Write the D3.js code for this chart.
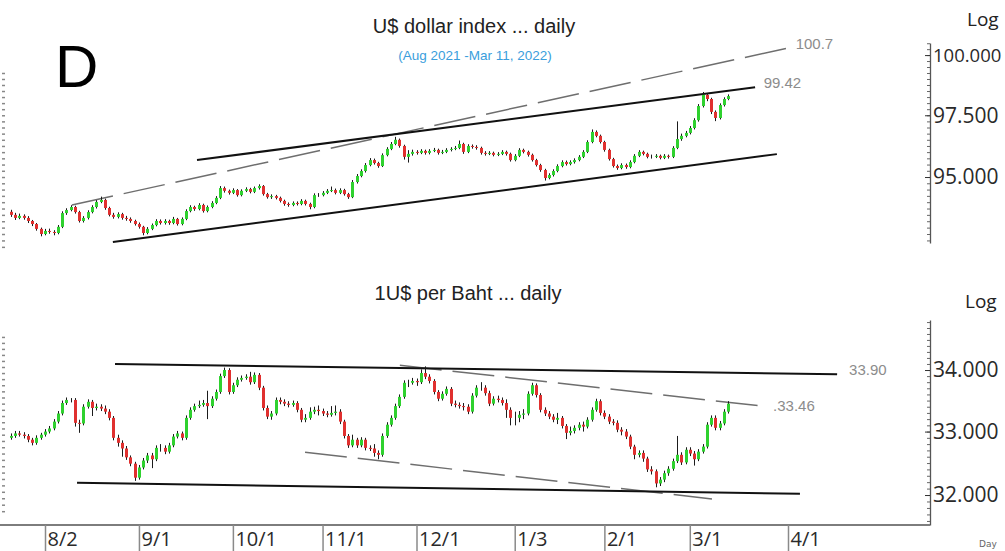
<!DOCTYPE html>
<html><head><meta charset="utf-8">
<script src="https://cdn.jsdelivr.net/npm/d3@7"></script>
<style>html,body{margin:0;padding:0;background:#fff;}svg{display:block;}</style>
</head><body>
<svg id="chart" width="1005" height="551"></svg>
<script>
// ---------- data ----------
const firstDate = "2021-07-21";           // first candle (daily, weekdays)
const baseDate = "2021-08-02";            // trading-day index 0
const tickDates = ["2021-08-02","2021-09-01","2021-10-01","2021-11-01","2021-12-01","2022-01-03","2022-02-01","2022-03-01","2022-04-01"];
const tickLabels = ["8/2","9/1","10/1","11/1","12/1","1/3","2/1","3/1","4/1"];

const usdOpen = [93.62,93.50,93.38,93.46,93.38,93.26,93.14,92.95,
92.75,92.87,92.83,92.79,93.03,93.57,93.69,93.81,93.61,93.26,
93.38,93.61,93.81,94.01,94.09,93.77,93.50,93.42,93.53,93.38,
93.34,93.26,93.14,93.03,92.79,92.95,93.10,93.26,93.18,93.26,
93.18,93.34,93.14,93.34,93.65,93.81,93.73,93.89,93.65,93.81,
93.97,94.17,94.56,94.45,94.37,94.48,94.28,94.45,94.52,94.41,
94.56,94.64,94.32,94.20,94.24,94.17,94.05,93.93,93.89,93.97,
93.93,94.05,93.93,93.81,94.28,94.28,94.37,94.45,94.48,94.37,
94.48,94.32,94.20,94.80,95.04,95.24,95.48,95.68,95.56,95.44,
95.88,96.13,96.33,96.50,96.25,95.81,95.93,96.01,95.97,96.05,
95.97,96.05,96.09,95.97,96.01,96.09,96.13,96.17,96.33,96.01,
96.25,96.21,96.17,95.97,95.93,95.97,95.89,95.93,96.01,95.93,
95.68,95.85,96.09,96.01,95.89,95.68,95.48,95.28,94.96,95.08,
95.24,95.44,95.60,95.52,95.60,95.68,95.81,96.01,96.41,96.82,
96.66,96.41,96.09,95.72,95.44,95.36,95.48,95.40,95.60,95.85,
96.01,95.93,95.81,95.81,95.85,95.77,95.85,95.81,96.17,96.53,
96.66,96.78,96.98,97.30,97.88,98.34,98.17,97.64,97.39,97.92,
98.17];
const usdHigh = [93.70,93.58,93.55,93.52,93.45,93.30,93.18,93.00,
92.95,92.96,92.90,93.10,93.64,93.76,93.88,93.86,93.66,93.45,
93.68,93.88,94.08,94.22,94.14,93.82,93.58,93.60,93.58,93.46,
93.40,93.31,93.20,93.07,93.02,93.16,93.33,93.32,93.33,93.31,
93.42,93.38,93.40,93.72,93.88,93.86,93.96,93.94,93.87,94.04,
94.24,94.64,94.62,94.50,94.55,94.52,94.51,94.59,94.57,94.62,
94.71,94.68,94.37,94.31,94.29,94.22,94.10,93.99,94.03,94.03,
94.12,94.10,93.98,94.35,94.36,94.44,94.52,94.62,94.54,94.55,
94.53,94.37,94.88,95.12,95.31,95.56,95.76,95.74,95.61,95.95,
96.20,96.41,96.62,96.55,96.30,96.08,96.10,96.08,96.12,96.10,
96.12,96.17,96.14,96.09,96.16,96.20,96.25,96.47,96.38,96.32,
96.31,96.28,96.22,96.04,96.04,96.02,96.00,96.08,96.06,95.98,
95.92,96.16,96.14,96.06,95.94,95.73,95.53,95.33,95.15,95.31,
95.51,95.67,95.66,95.67,95.75,95.88,96.08,96.48,96.92,96.88,
96.71,96.46,96.14,95.77,95.50,95.55,95.54,95.67,95.92,96.08,
96.06,95.98,95.90,95.92,95.90,95.92,95.90,96.24,97.25,96.75,
96.86,97.06,97.38,97.96,98.46,98.40,98.22,97.70,97.99,98.24,
98.36];
const usdLow = [93.42,93.30,93.33,93.31,93.18,93.06,92.88,92.66,
92.70,92.76,92.70,92.74,92.98,93.50,93.64,93.55,93.20,93.20,
93.32,93.56,93.75,93.96,93.70,93.44,93.35,93.36,93.31,93.27,
93.19,93.08,92.96,92.70,92.74,92.90,93.05,93.12,93.12,93.11,
93.13,93.08,93.09,93.29,93.60,93.66,93.68,93.59,93.60,93.76,
93.92,94.12,94.38,94.30,94.32,94.22,94.23,94.40,94.35,94.36,
94.50,94.26,94.14,94.13,94.11,93.99,93.86,93.82,93.84,93.87,
93.88,93.87,93.72,93.76,94.21,94.23,94.32,94.40,94.31,94.32,
94.26,94.13,94.16,94.74,94.99,95.18,95.43,95.50,95.37,95.40,
95.83,96.08,96.28,96.18,95.70,95.58,95.86,95.90,95.92,95.90,
95.91,96.00,95.90,95.92,95.96,96.03,96.08,96.12,95.93,95.96,
96.14,96.10,95.90,95.86,95.88,95.83,95.84,95.88,95.86,95.62,
95.63,95.80,95.95,95.82,95.62,95.42,95.21,94.86,94.91,95.02,
95.19,95.39,95.46,95.47,95.54,95.63,95.76,95.96,96.36,96.60,
96.35,96.02,95.66,95.38,95.29,95.31,95.33,95.35,95.55,95.80,
95.87,95.75,95.74,95.76,95.71,95.72,95.74,95.76,96.12,96.46,
96.60,96.72,96.92,97.24,97.82,98.08,97.55,97.26,97.33,97.86,
98.12];
const usdClose = [93.50,93.38,93.46,93.38,93.26,93.14,92.95,92.75,
92.87,92.83,92.79,93.03,93.57,93.69,93.81,93.61,93.26,93.38,
93.61,93.81,94.01,94.09,93.77,93.50,93.42,93.53,93.38,93.34,
93.26,93.14,93.03,92.79,92.95,93.10,93.26,93.18,93.26,93.18,
93.34,93.14,93.34,93.65,93.81,93.73,93.89,93.65,93.81,93.97,
94.17,94.56,94.45,94.37,94.48,94.28,94.45,94.52,94.41,94.56,
94.64,94.32,94.20,94.24,94.17,94.05,93.93,93.89,93.97,93.93,
94.05,93.93,93.81,94.28,94.28,94.37,94.45,94.48,94.37,94.48,
94.32,94.20,94.80,95.04,95.24,95.48,95.68,95.56,95.44,95.88,
96.13,96.33,96.50,96.25,95.81,95.93,96.01,95.97,96.05,95.97,
96.05,96.09,95.97,96.01,96.09,96.13,96.17,96.33,96.01,96.25,
96.21,96.17,95.97,95.93,95.97,95.89,95.93,96.01,95.93,95.68,
95.85,96.09,96.01,95.89,95.68,95.48,95.28,94.96,95.08,95.24,
95.44,95.60,95.52,95.60,95.68,95.81,96.01,96.41,96.82,96.66,
96.41,96.09,95.72,95.44,95.36,95.48,95.40,95.60,95.85,96.01,
95.93,95.81,95.81,95.85,95.77,95.85,95.81,96.17,96.53,96.66,
96.78,96.98,97.30,97.88,98.34,98.17,97.64,97.39,97.92,98.17,
98.29];

const thbOpen = [32.90,32.93,32.97,32.95,32.93,32.87,32.82,32.90,
32.95,33.00,33.05,33.16,33.29,33.46,33.51,33.51,33.14,33.13,
33.40,33.48,33.38,33.40,33.37,33.32,33.22,32.90,32.82,32.73,
32.59,32.49,32.27,32.43,32.54,32.62,32.56,32.74,32.74,32.68,
32.78,32.92,32.97,32.90,33.22,33.35,33.41,33.43,33.46,33.41,
33.53,33.64,33.90,34.00,33.64,33.75,33.84,33.87,33.89,33.80,
33.92,33.71,33.38,33.24,33.29,33.51,33.48,33.45,33.43,33.46,
33.35,33.19,33.22,33.32,33.35,33.33,33.29,33.27,33.30,33.32,
33.16,32.93,32.78,32.87,32.78,32.87,32.74,32.73,32.66,32.63,
32.93,33.11,33.22,33.41,33.56,33.79,33.79,33.82,33.80,33.95,
33.89,33.82,33.64,33.53,33.61,33.69,33.45,33.43,33.41,33.40,
33.32,33.58,33.71,33.71,33.62,33.45,33.53,33.51,33.46,33.35,
33.22,33.22,33.27,33.29,33.61,33.75,33.59,33.35,33.29,33.24,
33.19,33.22,33.09,32.98,33.01,33.06,33.11,33.08,33.19,33.35,
33.49,33.30,33.24,33.16,33.14,33.03,33.00,32.92,32.76,32.63,
32.66,32.57,32.40,32.37,32.18,32.24,32.34,32.41,32.53,32.63,
32.51,32.71,32.65,32.56,32.68,32.76,33.11,33.22,33.06,33.13,
33.32];
const thbHigh = [32.97,33.01,33.01,32.99,32.96,32.90,32.94,32.98,
33.04,33.09,33.20,33.33,33.50,33.55,33.54,33.54,33.19,33.44,
33.52,33.51,33.45,33.44,33.42,33.36,33.25,32.95,32.86,32.77,
32.62,32.52,32.47,32.58,32.66,32.66,32.78,32.80,32.78,32.82,
32.96,33.01,33.00,33.26,33.39,33.45,33.50,33.51,33.66,33.57,
33.68,33.94,34.04,34.03,33.79,33.88,33.91,33.93,33.97,33.96,
33.95,33.74,33.42,33.33,33.55,33.55,33.52,33.49,33.50,33.49,
33.38,33.28,33.39,33.40,33.42,33.37,33.33,33.41,33.42,33.36,
33.19,32.96,32.95,32.90,32.91,32.90,32.78,32.80,32.70,32.97,
33.15,33.26,33.45,33.60,33.83,33.84,33.87,33.86,34.01,34.06,
33.93,33.85,33.67,33.65,33.73,33.72,33.50,33.47,33.46,33.44,
33.62,33.75,33.80,33.75,33.66,33.57,33.58,33.55,33.52,33.39,
33.32,33.33,33.36,33.65,33.79,33.78,33.62,33.39,33.33,33.28,
33.30,33.25,33.12,33.08,33.10,33.15,33.16,33.23,33.39,33.53,
33.52,33.34,33.28,33.20,33.18,33.07,33.04,32.95,32.79,32.70,
32.70,32.60,32.45,32.40,32.28,32.38,32.45,32.57,32.93,32.67,
32.75,32.75,32.69,32.72,32.80,33.15,33.26,33.26,33.17,33.36,
33.49];
const thbLow = [32.87,32.90,32.92,32.89,32.83,32.78,32.79,32.87,
32.92,32.97,33.02,33.13,33.26,33.43,33.47,33.08,32.98,33.10,
33.37,33.25,33.34,33.33,33.28,33.18,32.86,32.76,32.60,32.55,
32.45,32.22,32.24,32.40,32.50,32.42,32.53,32.68,32.64,32.65,
32.75,32.89,32.86,32.87,33.19,33.32,33.38,33.40,33.20,33.38,
33.50,33.61,33.87,33.60,33.61,33.72,33.81,33.84,33.76,33.77,
33.67,33.34,33.20,33.19,33.26,33.44,33.41,33.39,33.40,33.31,
33.15,33.15,33.19,33.28,33.26,33.25,33.23,33.24,33.26,33.12,
32.89,32.74,32.75,32.74,32.75,32.70,32.69,32.60,32.56,32.60,
32.90,33.08,33.19,33.38,33.53,33.72,33.76,33.74,33.77,33.85,
33.78,33.60,33.49,33.50,33.58,33.41,33.39,33.37,33.34,33.28,
33.29,33.55,33.66,33.58,33.41,33.42,33.47,33.42,33.22,33.10,
33.10,33.15,33.20,33.26,33.58,33.55,33.31,33.25,33.20,33.15,
33.12,33.05,32.88,32.94,32.97,33.02,33.00,33.05,33.16,33.32,
33.26,33.20,33.12,33.10,32.99,32.94,32.88,32.72,32.56,32.59,
32.52,32.36,32.32,32.12,32.14,32.20,32.30,32.38,32.50,32.47,
32.48,32.61,32.46,32.53,32.65,32.73,33.08,33.02,33.02,33.10,
33.29];
const thbClose = [32.93,32.97,32.95,32.93,32.87,32.82,32.90,32.95,
33.00,33.05,33.16,33.29,33.46,33.51,33.51,33.14,33.13,33.40,
33.48,33.38,33.40,33.37,33.32,33.22,32.90,32.82,32.73,32.59,
32.49,32.27,32.43,32.54,32.62,32.56,32.74,32.74,32.68,32.78,
32.92,32.97,32.90,33.22,33.35,33.41,33.43,33.46,33.41,33.53,
33.64,33.90,34.00,33.64,33.75,33.84,33.87,33.89,33.80,33.92,
33.71,33.38,33.24,33.29,33.51,33.48,33.45,33.43,33.46,33.35,
33.19,33.22,33.32,33.35,33.33,33.29,33.27,33.30,33.32,33.16,
32.93,32.78,32.87,32.78,32.87,32.74,32.73,32.66,32.63,32.93,
33.11,33.22,33.41,33.56,33.79,33.79,33.82,33.80,33.95,33.89,
33.82,33.64,33.53,33.61,33.69,33.45,33.43,33.41,33.40,33.32,
33.58,33.71,33.71,33.62,33.45,33.53,33.51,33.46,33.35,33.22,
33.22,33.27,33.29,33.61,33.75,33.59,33.35,33.29,33.24,33.19,
33.22,33.09,32.98,33.01,33.06,33.11,33.08,33.19,33.35,33.49,
33.30,33.24,33.16,33.14,33.03,33.00,32.92,32.76,32.63,32.66,
32.57,32.40,32.37,32.18,32.24,32.34,32.41,32.53,32.63,32.51,
32.71,32.65,32.56,32.68,32.76,33.11,33.22,33.06,33.13,33.32,
33.45];

// trend lines: [trading-day index from 8/2/2021, value]
const usdChannelTop = [[35.6, 95.68], [166.3, 98.66]];
const usdChannelBottom = [[15.9, 92.44], [171.4, 95.92]];
const usdDashed = [[6.3, 93.89], [175.0, 100.34]];
const usdLabels = [{t:"100.7", at:[175.8, 100.47]}, {t:"99.42", at:[168.3, 98.84]}];
const usdTicks = [95, 97.5, 100];

const thbTop = [[16.4, 34.10], [185.5, 33.93]];
const thbBottom = [[7.5, 32.19], [176.8, 32.02]];
const thbDashedTop = [[83.1, 34.08], [167.9, 33.41]];
const thbDashedBottom = [[60.9, 32.67], [156.2, 31.94]];
const thbLabels = [{t:"33.90", at:[188.3, 34.00]}, {t:".33.46", at:[170.5, 33.41]}];
const thbTicks = [32, 33, 34];

// ---------- helpers ----------
function tIdx(s){
  const t = Date.parse(s+"T00:00:00Z"), b = Date.parse(baseDate+"T00:00:00Z");
  let n = 0;
  if (t >= b) { for (let u=b; u<t; u+=864e5){ const w=new Date(u).getUTCDay(); if(w!==0&&w!==6) n++; } }
  else { for (let u=b; u>t; u-=864e5){ const w=new Date(u-864e5).getUTCDay(); if(w!==0&&w!==6) n--; } }
  return n;
}
const startIdx = tIdx(firstDate);

const svg = d3.select("#chart");
const x = d3.scaleLinear().domain([0, tIdx("2022-04-01")]).range([45, 788]);
const yTop = d3.scaleLog().domain([92.40, 100.51]).range([243, 43]);
const yBot = d3.scaleLog().domain([31.538, 34.835]).range([525, 320]);

const UP = "#2fd12f", DOWN = "#e0302f";

function candles(g, y, O, H, L, C){
  const data = C.map((c,k)=>({i:startIdx+k, o:O[k], h:H[k], l:L[k], c:c}));
  const cx = d => Math.round(x(d.i)) + 0.5;
  g.selectAll("line.wick").data(data).join("line").attr("class","wick")
    .attr("x1",cx).attr("x2",cx)
    .attr("y1",d=>y(d.h)).attr("y2",d=>y(d.l))
    .attr("stroke","#1b1b1b").attr("stroke-width",1);
  g.selectAll("rect.body").data(data.filter(d=>d.o!==d.c)).join("rect").attr("class","body")
    .attr("x",d=>cx(d)-1.5).attr("width",3)
    .attr("y",d=>y(Math.max(d.o,d.c)))
    .attr("height",d=>Math.max(1, Math.abs(y(d.o)-y(d.c))))
    .attr("fill",d=>d.c>d.o?UP:DOWN);
}
function seg(g, y, pts, dashed){
  g.append("path").datum(pts)
    .attr("d", d3.line().x(d=>x(d[0])).y(d=>y(d[1])))
    .attr("fill","none")
    .attr("stroke", dashed ? "#6e6e6e" : "#111")
    .attr("stroke-width", dashed ? 1.5 : 2)
    .attr("stroke-dasharray", dashed ? "42 11" : null);
}
function lbl(g, y, l){
  g.append("text").attr("x", x(l.at[0])).attr("y", y(l.at[1]))
    .attr("dy","0.35em").attr("font-family","Liberation Sans, Arial, sans-serif")
    .attr("font-size",15).attr("fill","#8c8c8c").text(l.t);
}
function rightAxis(g, y, ticks, minor, lo, hi){
  const ax = g.append("g").attr("transform","translate(930,0)");
  ax.call(d3.axisLeft(y).tickValues(minor).tickSize(3).tickFormat("").tickSizeOuter(0));
  ax.selectAll("path").attr("stroke","#555").attr("stroke-width",1.3);
  ax.selectAll(".tick line").attr("stroke","#666");
  const lab = g.append("g").attr("transform","translate(930,0)");
  lab.call(d3.axisRight(y).tickValues(ticks).tickSize(0).tickPadding(3).tickFormat(d3.format(".3f")));
  lab.select(".domain").remove();
  lab.selectAll("text").attr("font-family","Open Sans, sans-serif").attr("fill","#2a2a2a")
    .attr("font-size", function(){ return this.textContent.length > 6 ? 18.5 : 21; }); // widest label kept inside page
  const mj = g.append("g").attr("transform","translate(930,0)");
  mj.call(d3.axisLeft(y).tickValues(ticks).tickSize(5).tickFormat("").tickSizeOuter(0));
  mj.select(".domain").remove();
  mj.selectAll(".tick line").attr("stroke","#333");
  // faint ticks at the far left edge
  const lf = g.append("g").attr("transform","translate(5,0)");
  lf.call(d3.axisLeft(y).tickValues(d3.range(lo, hi, minor[1]-minor[0])).tickSize(3).tickFormat(""));
  lf.select(".domain").remove();
  lf.selectAll(".tick line").attr("stroke","#888").attr("stroke-width",1.5);
}

// ---------- top panel ----------
const gt = svg.append("g");
seg(gt, yTop, usdDashed, true);
seg(gt, yTop, usdChannelTop, false);
seg(gt, yTop, usdChannelBottom, false);
candles(gt, yTop, usdOpen, usdHigh, usdLow, usdClose);
usdLabels.forEach(l=>lbl(gt, yTop, l));
rightAxis(gt, yTop, usdTicks, d3.range(92.5, 100.6, 0.25), 92.25, 99.5);

// ---------- bottom panel ----------
const gb = svg.append("g");
seg(gb, yBot, thbDashedTop, true);
seg(gb, yBot, thbDashedBottom, true);
seg(gb, yBot, thbTop, false);
seg(gb, yBot, thbBottom, false);
candles(gb, yBot, thbOpen, thbHigh, thbLow, thbClose);
thbLabels.forEach(l=>lbl(gb, yBot, l));
rightAxis(gb, yBot, thbTicks, d3.range(31.6, 34.85, 0.1), 31.75, 34.65);

// ---------- x axis ----------
svg.append("line").attr("x1",0).attr("x2",930).attr("y1",525).attr("y2",525)
  .attr("stroke","#7d7d7d").attr("stroke-width",2);
const xa = svg.append("g").attr("transform","translate(0,525)")
  .call(d3.axisBottom(x).tickValues(tickDates.map(tIdx)).tickSize(27)
    .tickFormat((d,i)=>tickLabels[i]));
xa.select(".domain").remove();
xa.selectAll(".tick line").attr("stroke","#8a8a8a").attr("stroke-width",1.5);
xa.selectAll(".tick text").attr("text-anchor","start").attr("x",2).attr("y",21).attr("dy",0)
  .attr("font-family","Open Sans, sans-serif").attr("font-size",20).attr("fill","#2a2a2a");

// ---------- texts ----------
const txt = (s, X, Y, size, opt={}) => svg.append("text").attr("x",X).attr("y",Y)
  .attr("font-family", opt.f || "Liberation Sans, Arial, sans-serif")
  .attr("font-size", size).attr("fill", opt.c || "#222")
  .attr("text-anchor", opt.a || "start").text(s);
txt("U$ dollar index ... daily", 474, 33, 20, {a:"middle"});
txt("(Aug 2021 -Mar 11, 2022)", 475, 60, 13.5, {a:"middle", c:"#3a9edc"});
txt("1U$ per Baht ... daily", 468, 300, 20, {a:"middle"});
txt("D", 55, 87, 60, {c:"#000"});
txt("Log", 967, 26, 19, {f:"Open Sans, sans-serif"});
txt("Log", 965, 308, 19, {f:"Open Sans, sans-serif"});
txt("Day", 979, 547, 9, {f:"DejaVu Sans, sans-serif", c:"#666"});
</script>
</body></html>
